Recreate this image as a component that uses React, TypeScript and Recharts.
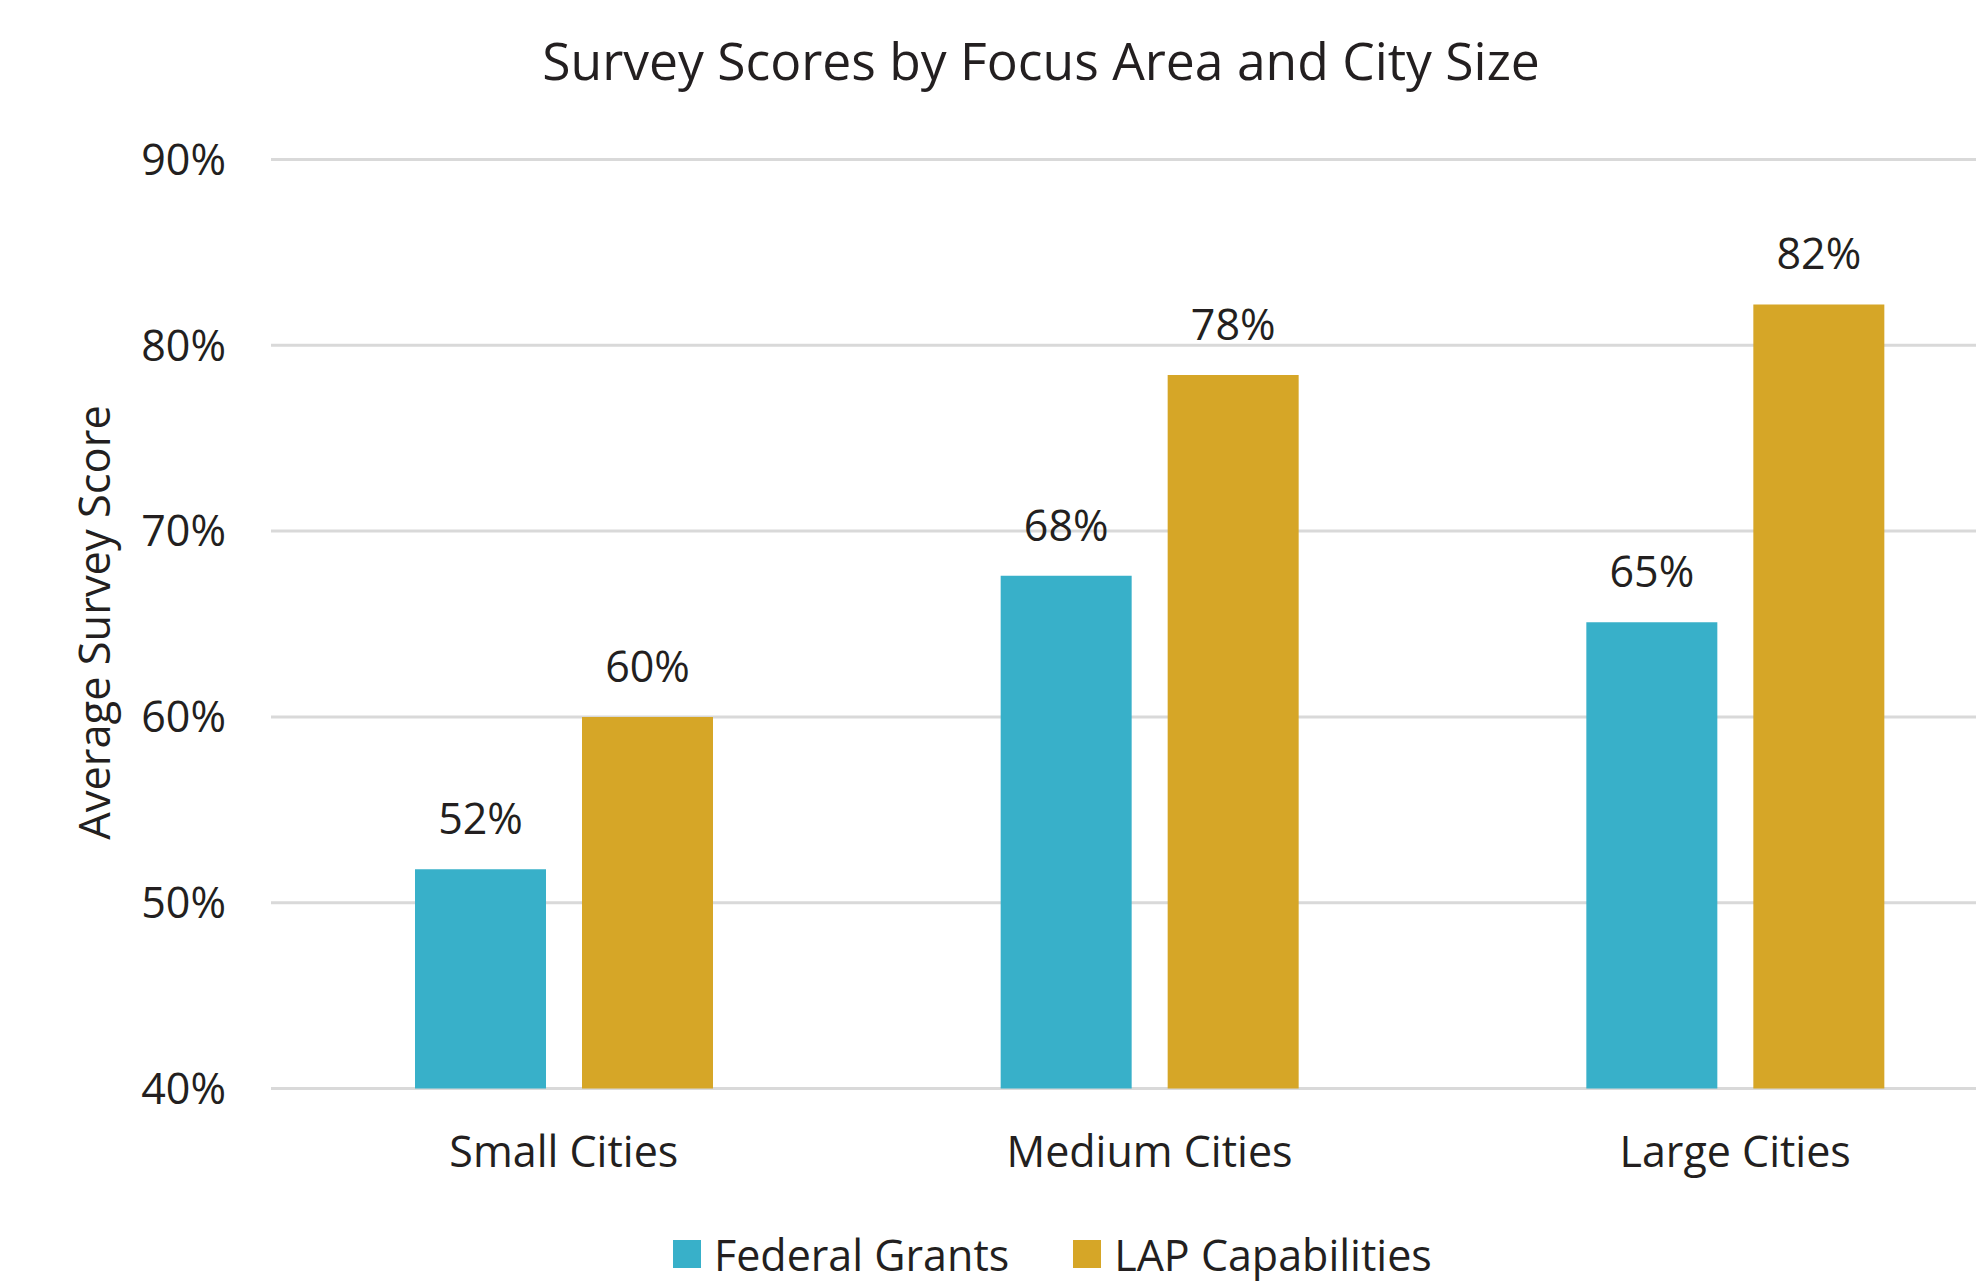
import React from 'react';
import { BarChart, Bar, XAxis, YAxis, CartesianGrid, LabelList, Legend } from 'recharts';

const categories = ['Small Cities', 'Medium Cities', 'Large Cities'];
const federalGrants = [51.8, 67.6, 65.1];
const lapCapabilities = [60.0, 78.4, 82.2];
const yTicks = [40, 50, 60, 70, 80, 90];
const seriesNames = ['Federal Grants', 'LAP Capabilities'];
const seriesColors = ['#38B0C9', '#D6A627'];
const chartTitle = 'Survey Scores by Focus Area and City Size';
const yAxisTitle = 'Average Survey Score';

const data = categories.map((c, i) => ({
  name: c,
  federal: federalGrants[i],
  lap: lapCapabilities[i],
}));

const FONT = '"Open Sans", "Noto Sans", sans-serif';
const TEXT = '#231F20';

const YTitle = (props: any) => {
  const vb = props.viewBox || { y: 159.5, height: 929 };
  const cy = vb.y + vb.height / 2 - 1.5;
  const x = 95;
  return (
    <text
      x={x}
      y={cy}
      dy="0.355em"
      transform={`rotate(-90, ${x}, ${cy})`}
      textAnchor="middle"
      fontSize={43.4}
      fontFamily={FONT}
      fill={TEXT}
    >
      {yAxisTitle}
    </text>
  );
};

const LegendContent = () => (
  <div style={{ display: 'flex', alignItems: 'center', height: 43, marginLeft: 673, fontFamily: FONT, whiteSpace: 'nowrap' }}>
    {seriesNames.map((n, i) => (
      <div key={n} style={{ display: 'flex', alignItems: 'center', marginRight: 64 }}>
        <div style={{ width: 28, height: 28, background: seriesColors[i], marginRight: 13 }} />
        <span style={{ fontSize: 43, lineHeight: '43px', color: TEXT }}>{n}</span>
      </div>
    ))}
  </div>
);

const fmt = (v: any) => `${Math.round(Number(v))}%`;

export default function App() {
  return (
    <div style={{ position: 'absolute', left: 0, top: 0, width: 1976, height: 1281, overflow: 'hidden', background: '#fff' }}>
      <BarChart
        width={2028}
        height={1281}
        data={data}
        margin={{ top: 159.5, right: 0, bottom: 112.5, left: 0 }}
        barSize={131}
        barGap={36}
      >
        <CartesianGrid horizontal vertical={false} stroke="#D9D9D9" strokeWidth={3} />
        <XAxis
          dataKey="name"
          height={80}
          axisLine={false}
          tickLine={false}
          tickSize={0}
          tickMargin={48}
          interval={0}
          tick={{ fontSize: 43, fill: TEXT, fontFamily: FONT }}
        />
        <YAxis
          width={271}
          domain={[40, 90]}
          ticks={yTicks}
          tickFormatter={(v: number) => `${v}%`}
          axisLine={false}
          tickLine={false}
          tickSize={0}
          tickMargin={45}
          tick={{ fontSize: 43, fill: TEXT, fontFamily: FONT }}
          label={<YTitle />}
        />
        <Legend
          layout="horizontal"
          verticalAlign="middle"
          align="center"
          content={<LegendContent />}
          wrapperStyle={{ top: 1232.5, left: 0, width: 1976, height: 43 }}
        />
        <Bar dataKey="federal" name={seriesNames[0]} fill={seriesColors[0]} isAnimationActive={false}>
          <LabelList dataKey="federal" position="top" offset={35} formatter={fmt} fontSize={43} fill={TEXT} fontFamily={FONT} />
        </Bar>
        <Bar dataKey="lap" name={seriesNames[1]} fill={seriesColors[1]} isAnimationActive={false}>
          <LabelList dataKey="lap" position="top" offset={35} formatter={fmt} fontSize={43} fill={TEXT} fontFamily={FONT} />
        </Bar>
      </BarChart>
      <svg width={1976} height={120} style={{ position: 'absolute', left: 0, top: 0, pointerEvents: 'none' }}>
        <text x={1041} y={80} textAnchor="middle" fontSize={51.6} fontFamily={FONT} fill={TEXT}>
          {chartTitle}
        </text>
      </svg>
    </div>
  );
}
